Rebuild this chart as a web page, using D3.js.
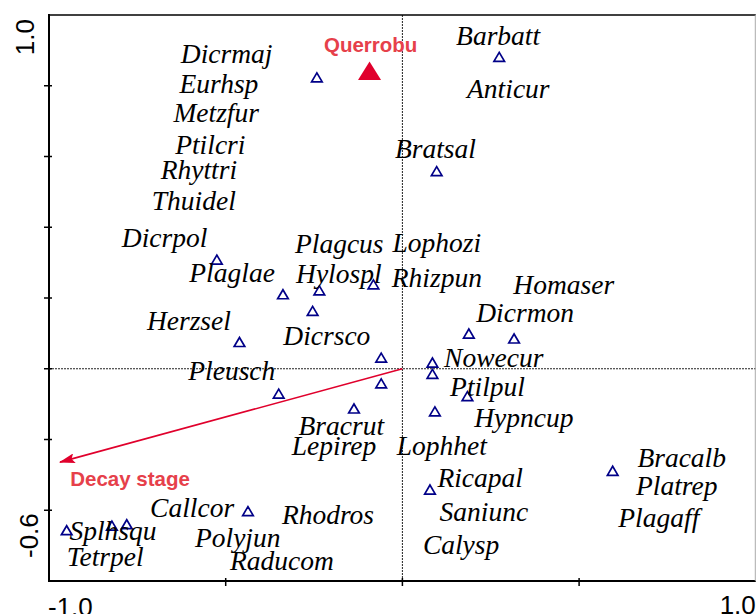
<!DOCTYPE html>
<html>
<head>
<meta charset="utf-8">
<script src="https://cdn.jsdelivr.net/npm/d3@7"></script>
<style>
  body { margin: 0; background: #fff; }
  svg { display: block; }
</style>
</head>
<body>
<svg id="plot1" width="756" height="614"></svg>
<script>
// species scores (triangles), axis 1 and axis 2
var speciesX = [-0.242, 0.097, 0.274, -0.525, -0.338, -0.235, -0.082, -0.254, -0.461, -0.060,
                0.085, 0.085, -0.060, -0.350, -0.137, 0.092, 0.188, 0.316, 0.184, 0.595,
                0.078, -0.950, -0.822, -0.780, -0.437];
var speciesY = [0.823, 0.558, 0.881, 0.308, 0.210, 0.221, 0.238, 0.163, 0.075, 0.031,
                0.017, -0.015, -0.042, -0.071, -0.113, -0.121, 0.099, 0.085, -0.078, -0.289,
                -0.342, -0.457, -0.444, -0.440, -0.403];

// species labels and where they were placed on the plot (data units, left end of baseline)
var labelNames = ['Dicrmaj', 'Eurhsp', 'Metzfur', 'Ptilcri', 'Rhyttri', 'Thuidel', 'Dicrpol', 'Plaglae',
                  'Herzsel', 'Pleusch', 'Plagcus', 'Hylospl', 'Dicrsco', 'Lophozi', 'Rhizpun', 'Barbatt',
                  'Anticur', 'Bratsal', 'Homaser', 'Dicrmon', 'Nowecur', 'Ptilpul', 'Hypncup', 'Bracrut',
                  'Lepirep', 'Lophhet', 'Ricapal', 'Saniunc', 'Calysp', 'Bracalb', 'Platrep', 'Plagaff',
                  'Callcor', 'Rhodros', 'Splhsqu', 'Polyjun', 'Tetrpel', 'Raducom'];
var labelX = [-0.627, -0.631, -0.648, -0.643, -0.684, -0.709, -0.794, -0.603,
              -0.723, -0.606, -0.304, -0.301, -0.337, -0.028, -0.030, 0.152,
              0.183, -0.021, 0.314, 0.209, 0.118, 0.135, 0.203, -0.294,
              -0.313, -0.016, 0.099, 0.105, 0.058, 0.665, 0.661, 0.611,
              -0.714, -0.341, -0.942, -0.587, -0.950, -0.488];
var labelY = [0.864, 0.780, 0.698, 0.606, 0.535, 0.450, 0.344, 0.245,
              0.110, -0.031, 0.328, 0.242, 0.066, 0.329, 0.230, 0.915,
              0.765, 0.595, 0.210, 0.132, 0.005, -0.078, -0.165, -0.186,
              -0.245, -0.245, -0.333, -0.429, -0.523, -0.278, -0.356, -0.446,
              -0.418, -0.438, -0.484, -0.503, -0.559, -0.569];

// supplementary variable (tree species) and the environmental vector
var suppName = 'Querrobu', suppX = -0.093, suppY = 0.842, suppLabelX = -0.222, suppLabelY = 0.896;
var envName = 'Decay stage', envX = -0.969, envY = -0.264, envLabelX = -0.940, envLabelY = -0.332;

// axis ticks
var xTicks = [-0.5, 0, 0.5];
var yTicks = [0.8, 0.6, 0.4, 0.2, 0, -0.2, -0.4];
var xTickLabels = ['-1.0', '1.0'];
var yTickLabels = ['1.0', '-0.6'];

var svg = d3.select('#plot1'),
    plotLeft = 49, plotRight = 755.8, plotTop = 15, plotBottom = 581;

var x = d3.scaleLinear().domain([-1, 1]).range([plotLeft, plotRight]),
    y = d3.scaleLinear().domain([-0.6, 1]).range([plotBottom, plotTop]);

var navy = '#000088', red = '#e0002c', redText = '#e6404a';

// dotted zero lines
svg.append('line')
    .attr('x1', x(0)).attr('x2', x(0)).attr('y1', plotTop).attr('y2', plotBottom)
    .attr('stroke', '#222').attr('stroke-width', 1).attr('stroke-dasharray', '2,1');
svg.append('line')
    .attr('x1', plotLeft).attr('x2', plotRight).attr('y1', y(0)).attr('y2', y(0))
    .attr('stroke', '#222').attr('stroke-width', 1).attr('stroke-dasharray', '2,1');

// frame - left, bottom and top dark, right edge light
svg.append('line').attr('x1', plotLeft).attr('x2', plotLeft).attr('y1', plotTop - 1).attr('y2', plotBottom + 1)
    .attr('stroke', '#000').attr('stroke-width', 2);
svg.append('line').attr('x1', plotLeft - 1).attr('x2', plotRight).attr('y1', plotBottom).attr('y2', plotBottom)
    .attr('stroke', '#000').attr('stroke-width', 2);
svg.append('line').attr('x1', plotLeft).attr('x2', plotRight).attr('y1', plotTop).attr('y2', plotTop)
    .attr('stroke', '#000').attr('stroke-width', 1.5);
svg.append('line').attr('x1', plotRight - 0.5).attr('x2', plotRight - 0.5).attr('y1', plotTop).attr('y2', plotBottom)
    .attr('stroke', '#aaa').attr('stroke-width', 1);

// tick marks cross the axis lines
svg.selectAll('.xtick')
    .data(xTicks)
    .enter()
    .append('line')
    .attr('class', 'xtick')
    .attr('x1', function(d){ return x(d); })
    .attr('x2', function(d){ return x(d); })
    .attr('y1', plotBottom - 3)
    .attr('y2', plotBottom + 5)
    .attr('stroke', '#000').attr('stroke-width', 1.5);

svg.selectAll('.ytick')
    .data(yTicks)
    .enter()
    .append('line')
    .attr('class', 'ytick')
    .attr('x1', plotLeft - 5)
    .attr('x2', plotLeft + 3)
    .attr('y1', function(d){ return y(d); })
    .attr('y2', function(d){ return y(d); })
    .attr('stroke', '#000').attr('stroke-width', 1.5);

// only the end values are labelled
svg.append('text')
    .attr('x', x(-1) - 1).attr('y', 616)
    .attr('font-family', 'Liberation Sans, Arial, sans-serif').attr('font-size', 26)
    .text(xTickLabels[0]);
svg.append('text')
    .attr('x', x(1)).attr('y', 614).attr('text-anchor', 'end')
    .attr('font-family', 'Liberation Sans, Arial, sans-serif').attr('font-size', 26)
    .text(xTickLabels[1]);
svg.append('text')
    .attr('transform', 'translate(34,' + (y(1) + 4) + ') rotate(-90)')
    .attr('text-anchor', 'end')
    .attr('font-family', 'Liberation Sans, Arial, sans-serif').attr('font-size', 26)
    .text(yTickLabels[0]);
svg.append('text')
    .attr('transform', 'translate(38,' + (y(-0.6) - 23) + ') rotate(-90)')
    .attr('text-anchor', 'start')
    .attr('font-family', 'Liberation Sans, Arial, sans-serif').attr('font-size', 26)
    .text(yTickLabels[1]);

// environmental arrow
svg.append('defs').append('marker')
    .attr('id', 'head')
    .attr('viewBox', '0 0 16 10')
    .attr('refX', 15).attr('refY', 5)
    .attr('markerWidth', 16).attr('markerHeight', 10)
    .attr('markerUnits', 'userSpaceOnUse')
    .attr('orient', 'auto')
    .append('path')
    .attr('d', 'M0,0 L16,5 L0,10 L3,5 Z')
    .attr('fill', red);

svg.append('line')
    .attr('x1', x(0)).attr('y1', y(0))
    .attr('x2', x(envX)).attr('y2', y(envY))
    .attr('stroke', red).attr('stroke-width', 1.6)
    .attr('marker-end', 'url(#head)');

svg.append('text')
    .attr('x', x(envLabelX)).attr('y', y(envLabelY))
    .attr('font-family', 'Liberation Sans, Arial, sans-serif').attr('font-size', 20.5)
    .attr('font-weight', 'bold').attr('fill', redText)
    .text(envName);

// species triangles (open)
var speciesData = speciesX.map(function(d, i){ return {x: d, y: speciesY[i]}; });

svg.selectAll('.species')
    .data(speciesData)
    .enter()
    .append('path')
    .attr('class', 'species')
    .attr('d', function(d){
        var cx = x(d.x), cy = y(d.y);
        return 'M' + (cx - 5.3) + ',' + (cy + 4.3) + 'L' + (cx + 5.3) + ',' + (cy + 4.3) + 'L' + cx + ',' + (cy - 4.7) + 'Z';
    })
    .attr('fill', 'none')
    .attr('stroke', navy)
    .attr('stroke-width', 1.7);

// species labels
var labelData = labelNames.map(function(d, i){ return {name: d, x: labelX[i], y: labelY[i]}; });

svg.selectAll('.speciesLabel')
    .data(labelData)
    .enter()
    .append('text')
    .attr('class', 'speciesLabel')
    .attr('x', function(d){ return x(d.x); })
    .attr('y', function(d){ return y(d.y); })
    .attr('font-family', 'Liberation Serif, Times New Roman, serif')
    .attr('font-style', 'italic')
    .attr('font-size', 27.5)
    .attr('fill', '#000')
    .text(function(d){ return d.name; });

// supplementary variable - filled red triangle
svg.append('path')
    .attr('d', function(){
        var cx = x(suppX), cy = y(suppY);
        return 'M' + (cx - 11.5) + ',' + (cy + 9) + 'L' + (cx + 11.5) + ',' + (cy + 9) + 'L' + cx + ',' + (cy - 9.5) + 'Z';
    })
    .attr('fill', red);

svg.append('text')
    .attr('x', x(suppLabelX)).attr('y', y(suppLabelY))
    .attr('font-family', 'Liberation Sans, Arial, sans-serif').attr('font-size', 20.5)
    .attr('font-weight', 'bold').attr('fill', redText)
    .text(suppName);
</script>
</body>
</html>
